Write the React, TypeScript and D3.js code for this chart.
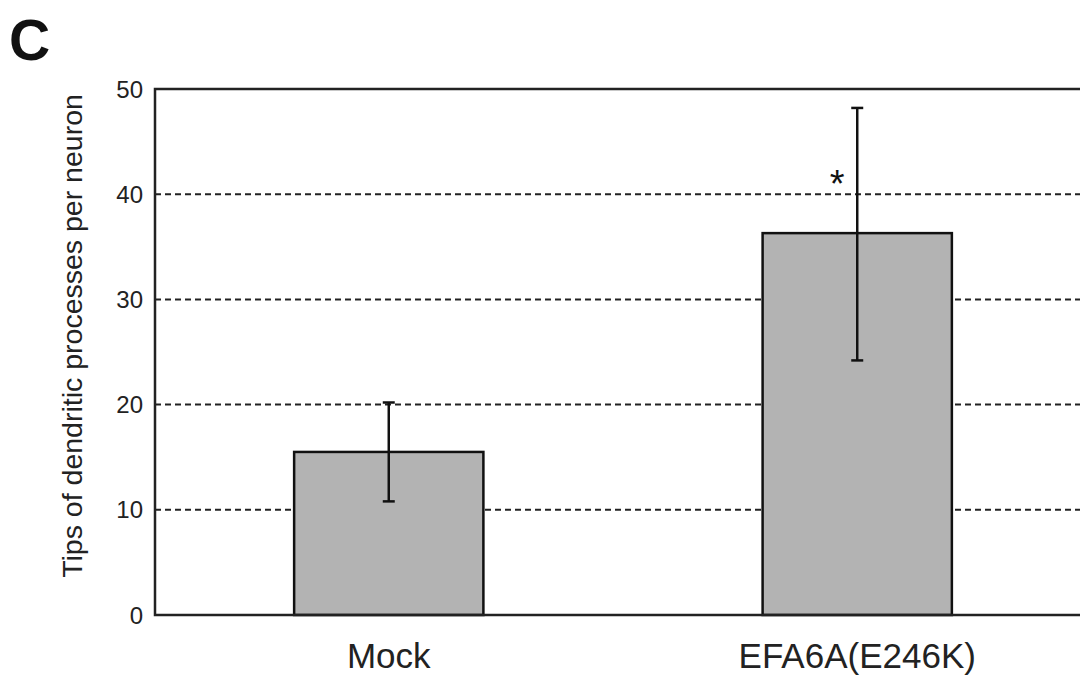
import React, { useEffect, useRef } from "react";
import * as d3 from "d3";

// values
const categories = ["Mock", "EFA6A(E246K)"];
const means = [15.5, 36.3];
const errLow = [10.8, 24.2];
const errHigh = [20.2, 48.2];
const significance = ["", "*"];
const yTicks = [0, 10, 20, 30, 40, 50];
const gridTicks = [10, 20, 30, 40];

const W = 1080;
const H = 679;
const font = "'Liberation Sans', Arial, Helvetica, sans-serif";

export default function App() {
  const svgRef = useRef<SVGSVGElement>(null);

  useEffect(() => {
    const svg = d3.select(svgRef.current);
    svg.selectAll("*").remove();

    const margin = { top: 89, left: 155, bottom: 615, right: 1091 };

    const x = d3
      .scaleBand()
      .domain(categories)
      .range([margin.left, margin.right])
      .paddingInner(0.596)
      .paddingOuter(0.297);

    const y = d3.scaleLinear().domain([0, 50]).range([margin.bottom, margin.top]);

    // panel letter
    svg
      .append("text")
      .attr("x", 9)
      .attr("y", 60)
      .attr("font-family", font)
      .attr("font-weight", "bold")
      .attr("font-size", 57)
      .attr("fill", "#111")
      .text("C");

    // dashed grid lines
    svg
      .append("g")
      .selectAll("line")
      .data(gridTicks)
      .enter()
      .append("line")
      .attr("x1", margin.left)
      .attr("x2", margin.right)
      .attr("y1", (d) => y(d))
      .attr("y2", (d) => y(d))
      .attr("stroke", "#222")
      .attr("stroke-width", 2)
      .attr("stroke-dasharray", "6,4");

    // bars
    svg
      .append("g")
      .selectAll("rect")
      .data(categories)
      .enter()
      .append("rect")
      .attr("x", (d) => x(d)!)
      .attr("y", (d, i) => y(means[i]))
      .attr("width", x.bandwidth())
      .attr("height", (d, i) => y(0) - y(means[i]))
      .attr("fill", "#b3b3b3")
      .attr("stroke", "#111")
      .attr("stroke-width", 2.5);

    // error bars
    const eb = svg
      .append("g")
      .selectAll("g")
      .data(categories)
      .enter()
      .append("g")
      .attr("stroke", "#111")
      .attr("stroke-width", 2.5);
    const cx = (d: string) => x(d)! + x.bandwidth() / 2;
    eb.append("line")
      .attr("x1", cx)
      .attr("x2", cx)
      .attr("y1", (d, i) => y(errLow[i]))
      .attr("y2", (d, i) => y(errHigh[i]));
    eb.append("line")
      .attr("x1", (d) => cx(d) - 6)
      .attr("x2", (d) => cx(d) + 6)
      .attr("y1", (d, i) => y(errHigh[i]))
      .attr("y2", (d, i) => y(errHigh[i]));
    eb.append("line")
      .attr("x1", (d) => cx(d) - 6)
      .attr("x2", (d) => cx(d) + 6)
      .attr("y1", (d, i) => y(errLow[i]))
      .attr("y2", (d, i) => y(errLow[i]));

    // significance marks
    svg
      .append("g")
      .selectAll("text")
      .data(categories)
      .enter()
      .append("text")
      .attr("x", (d) => cx(d) - 20)
      .attr("y", (d, i) => y(means[i] + 5.5) + 22)
      .attr("text-anchor", "middle")
      .attr("font-family", font)
      .attr("font-size", 38)
      .attr("fill", "#111")
      .text((d, i) => significance[i]);

    // frame: left, top, bottom
    svg
      .append("path")
      .attr(
        "d",
        `M${margin.right},${y(50)}H${margin.left}V${y(0)}H${margin.right}`
      )
      .attr("fill", "none")
      .attr("stroke", "#222")
      .attr("stroke-width", 2.5);

    // y tick labels
    svg
      .append("g")
      .selectAll("text")
      .data(yTicks)
      .enter()
      .append("text")
      .attr("x", margin.left - 12)
      .attr("y", (d) => y(d))
      .attr("dy", "0.36em")
      .attr("text-anchor", "end")
      .attr("font-family", font)
      .attr("font-size", 24)
      .attr("fill", "#222")
      .text((d) => d);

    // y axis label
    svg
      .append("text")
      .attr("transform", `translate(82,${(margin.top + margin.bottom) / 2 - 16}) rotate(-90)`)
      .attr("text-anchor", "middle")
      .attr("font-family", font)
      .attr("font-size", 28.5)
      .attr("fill", "#222")
      .text("Tips of dendritic processes per neuron");

    // x category labels
    svg
      .append("g")
      .selectAll("text")
      .data(categories)
      .enter()
      .append("text")
      .attr("x", cx)
      .attr("y", 668)
      .attr("text-anchor", "middle")
      .attr("font-family", font)
      .attr("font-size", 35)
      .attr("fill", "#222")
      .text((d) => d);
  }, []);

  return (
    <svg
      ref={svgRef}
      width={W}
      height={H}
      style={{ position: "absolute", left: 0, top: 0, background: "#fff" }}
    />
  );
}
